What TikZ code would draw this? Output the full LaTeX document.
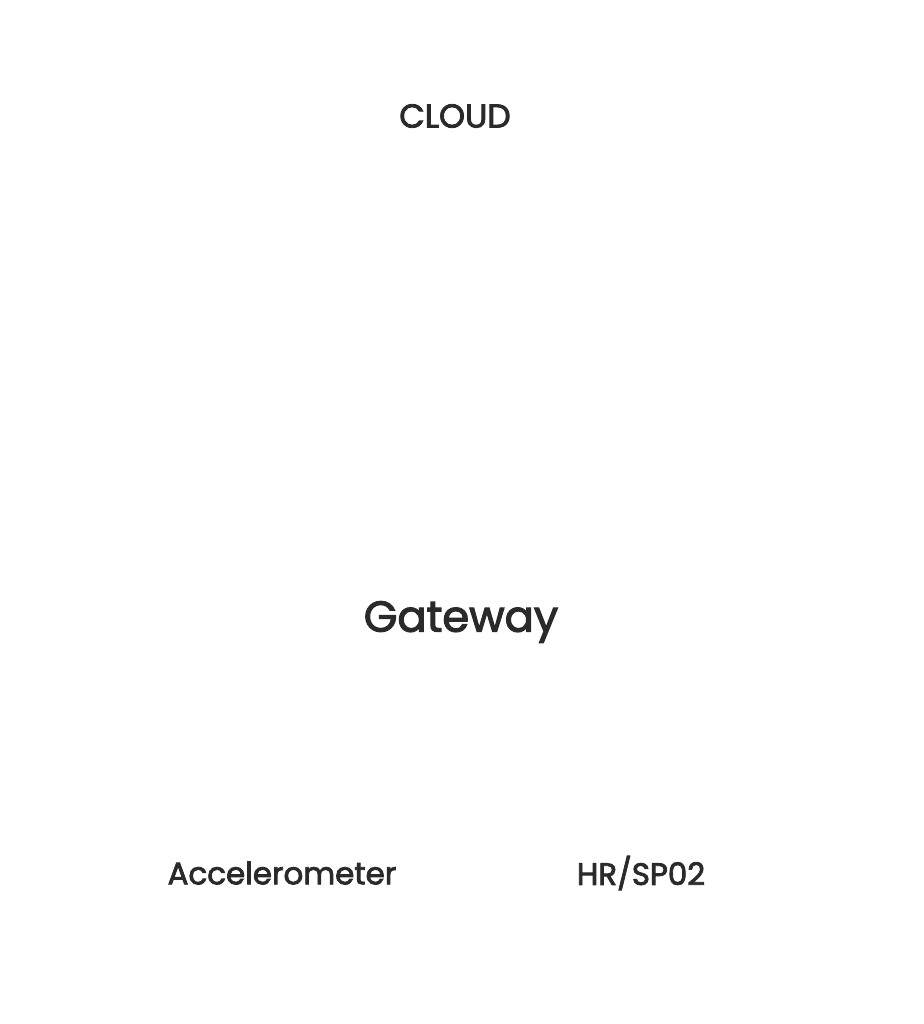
\documentclass[tikz,border=0pt]{standalone}
\usepackage{fontspec}
\setmainfont{Poppins}
\newfontfamily\medfont{Poppins}[FakeBold=2.5]
\usepackage{tikz}
\usetikzlibrary{positioning}
\definecolor{inkgray}{RGB}{42,42,42}

\begin{document}
\begin{tikzpicture}[
    x=1mm, y=1mm,
    tiername/.style={text=inkgray, inner sep=0pt, font=\medfont\fontsize{9.4}{11}\selectfont},
    hubname/.style={text=inkgray, inner sep=0pt, font=\medfont\fontsize{12.3}{15}\selectfont},
    sensorname/.style={text=inkgray, inner sep=0pt, font=\medfont\fontsize{8.8}{11}\selectfont}
]
    % Frame
    \useasboundingbox (0,0) rectangle (92.3,102.4);

    % Tiers
    \node[tiername] (cloud) at (45.5,90.8) {CLOUD};
    \node[hubname] (gateway) at (46.1,40.2) {Gateway};

    % Sensors
    \node[sensorname] (accel) at (28.2,15.1) {Accelerometer};
    \node[sensorname] (hrspo) at (64.1,15.1) {HR/SP02};
\end{tikzpicture}
\end{document}
